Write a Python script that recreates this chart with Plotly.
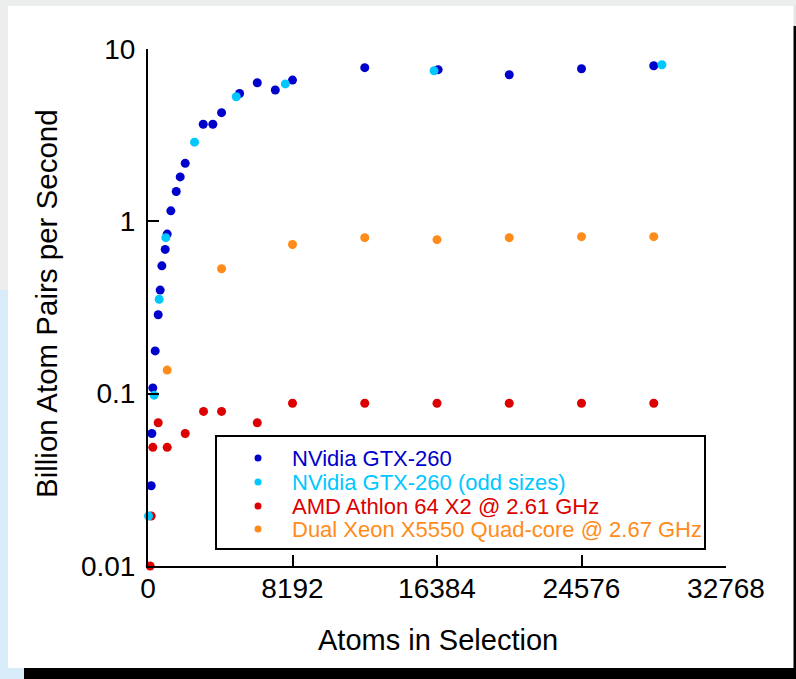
import plotly.graph_objects as go

# ---- data ----
gpu_x = [180, 217, 274, 407, 577, 690, 785, 975, 1088, 1295, 1600, 1825, 2110,
         3131, 3677, 4170, 5192, 6195, 7217, 8192, 12288, 16448, 20480, 24576, 28672]
gpu_y = [0.0292, 0.0587, 0.108, 0.177, 0.287, 0.399, 0.552, 0.687, 0.843, 1.15, 1.49, 1.81, 2.17,
         3.66, 3.66, 4.27, 5.52, 6.37, 5.78, 6.6, 7.79, 7.59, 7.09, 7.68, 8.0]

odd_x = [30, 350, 634, 1011, 2638, 5004, 7785, 16217, 29136]
odd_y = [0.0195, 0.098, 0.353, 0.804, 2.88, 5.28, 6.27, 7.48, 8.1]

amd_x = [124, 180, 274, 577, 1088, 2110, 3148, 4170, 6195, 8192, 12288, 16384, 20480, 24576, 28672]
amd_y = [0.0100, 0.0195, 0.0488, 0.0678, 0.0488, 0.0587, 0.0789, 0.0789, 0.0678, 0.088,
         0.088, 0.088, 0.088, 0.088, 0.088]

xeon_x = [1088, 4170, 8192, 12288, 16384, 20480, 24576, 28672]
xeon_y = [0.137, 0.531, 0.734, 0.804, 0.783, 0.804, 0.815, 0.815]

names = ["NVidia GTX-260", "NVidia GTX-260 (odd sizes)",
         "AMD Athlon 64 X2 @ 2.61 GHz", "Dual Xeon X5550 Quad-core @ 2.67 GHz"]
colors = ["#0000cc", "#00c8ff", "#dd0000", "#ff8c1a"]

x_ticks = [0, 8192, 16384, 24576, 32768]
y_ticks = [0.01, 0.1, 1, 10]
y_tick_text = ["0.01", "0.1", "1", "10"]

# ---- layout geometry (pixels) ----
W, H = 796, 679
L, R, T, B = 148, 70, 49, 113
PW, PH = W - L - R, H - T - B


def px(xp):
    return (xp - L) / PW


def py(yp):
    return (H - B - yp) / PH


FONT = "Liberation Sans, Arial, sans-serif"

fig = go.Figure()
series = [(gpu_x, gpu_y), (odd_x, odd_y), (amd_x, amd_y), (xeon_x, xeon_y)]
order = [2, 3, 0, 1]
for i in order:
    xs, ys = series[i]
    fig.add_trace(go.Scatter(
        x=xs, y=ys, mode="markers", name=names[i], showlegend=False,
        marker=dict(size=9, color=colors[i], line=dict(width=0)),
        cliponaxis=False,
    ))

shapes = []
# frame around the picture
shapes.append(dict(type="rect", xref="paper", yref="paper", x0=px(0), x1=px(W), y0=py(0), y1=py(6),
                   fillcolor="#eceeee", line=dict(width=0), layer="above"))
shapes.append(dict(type="rect", xref="paper", yref="paper", x0=px(0), x1=px(8), y0=py(6), y1=py(290),
                   fillcolor="#eceeee", line=dict(width=0), layer="above"))
shapes.append(dict(type="rect", xref="paper", yref="paper", x0=px(0), x1=px(8), y0=py(290), y1=py(H),
                   fillcolor="#d8ebf9", line=dict(width=0), layer="above"))
shapes.append(dict(type="rect", xref="paper", yref="paper", x0=px(0), x1=px(24), y0=py(668), y1=py(H),
                   fillcolor="#d8ebf9", line=dict(width=0), layer="above"))
shapes.append(dict(type="rect", xref="paper", yref="paper", x0=px(24), x1=px(W), y0=py(668), y1=py(H),
                   fillcolor="#000000", line=dict(width=0), layer="above"))
shapes.append(dict(type="rect", xref="paper", yref="paper", x0=px(793.5), x1=px(W), y0=py(6), y1=py(26),
                   fillcolor="#e4e6e6", line=dict(width=0), layer="above"))
shapes.append(dict(type="rect", xref="paper", yref="paper", x0=px(793.5), x1=px(W), y0=py(26), y1=py(668),
                   fillcolor="#000000", line=dict(width=0), layer="above"))
# legend box
shapes.append(dict(type="rect", xref="paper", yref="paper", x0=px(216), x1=px(705), y0=py(549), y1=py(436),
                   fillcolor="white", line=dict(width=2, color="black"), layer="above"))

rows = [458, 482, 506, 529]
annotations = []
for i in range(4):
    shapes.append(dict(type="circle", xref="paper", yref="paper", xsizemode="pixel", ysizemode="pixel",
                       xanchor=px(258), yanchor=py(rows[i]), x0=-3.5, x1=3.5, y0=-3.5, y1=3.5,
                       fillcolor=colors[i], line=dict(width=0), layer="above"))
    annotations.append(dict(xref="paper", yref="paper", x=px(290), y=py(rows[i]), xanchor="left",
                            yanchor="middle", text=names[i], showarrow=False,
                            font=dict(family=FONT, size=22, color=colors[i])))

annotations.append(dict(xref="paper", yref="paper", x=px(438), y=py(640), xanchor="center", yanchor="middle",
                        text="Atoms in Selection", showarrow=False,
                        font=dict(family=FONT, size=29, color="black")))
annotations.append(dict(xref="paper", yref="paper", x=px(46), y=py(304), xanchor="center", yanchor="middle",
                        text="Billion Atom Pairs per Second", showarrow=False, textangle=-90,
                        font=dict(family=FONT, size=29.5, color="black")))

fig.update_layout(
    width=W, height=H,
    margin=dict(l=L, r=R, t=T, b=B, autoexpand=False),
    paper_bgcolor="white", plot_bgcolor="white",
    font=dict(family=FONT, size=28, color="black"),
    showlegend=False,
    shapes=shapes, annotations=annotations,
    xaxis=dict(range=[0, 32768], tickvals=x_ticks, ticktext=[str(v) for v in x_ticks],
               showgrid=False, zeroline=False, showline=True, linecolor="black", linewidth=2,
               ticks="inside", ticklen=11, tickwidth=1.5, tickcolor="black", ticklabelstandoff=-4,
               tickfont=dict(family=FONT, size=28, color="black")),
    yaxis=dict(type="log", range=[-2, 1], tickvals=y_ticks, ticktext=y_tick_text,
               showgrid=False, zeroline=False, showline=True, linecolor="black", linewidth=2,
               ticks="inside", ticklen=11, tickwidth=1.5, tickcolor="black", ticklabelstandoff=5,
               tickfont=dict(family=FONT, size=28, color="black")),
)

fig.write_html("out.html",
               config={"displayModeBar": False},
               post_script="document.body.style.margin='0';document.body.style.padding='0';"
                           "document.documentElement.style.overflow='hidden';")
